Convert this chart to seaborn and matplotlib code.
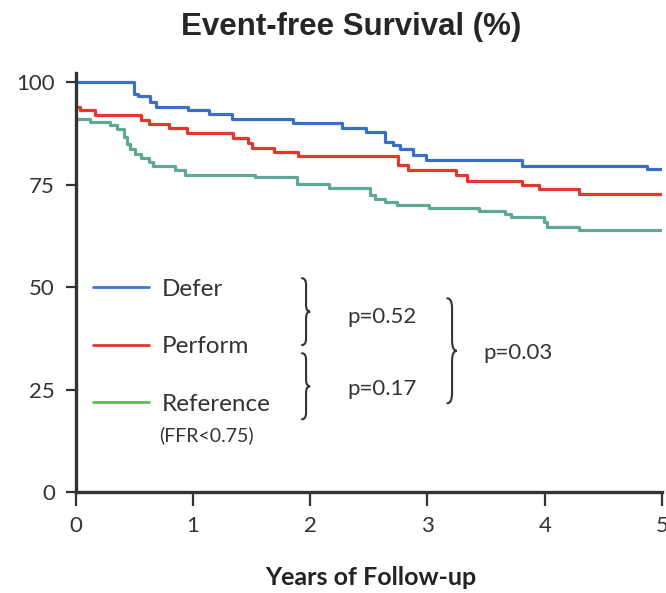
import matplotlib
matplotlib.use("Agg")
import matplotlib.pyplot as plt
from matplotlib.lines import Line2D
from matplotlib.path import Path
from matplotlib.patches import PathPatch
import pandas as pd
import seaborn as sns

# Kaplan-Meier style step curves (years, event-free survival %)
defer_t = [0, 0.50, 0.535, 0.635, 0.686, 0.96, 1.14, 1.33, 1.85, 2.27, 2.48,
           2.64, 2.71, 2.77, 2.88, 2.99, 3.81, 4.87, 5.0]
defer_s = [100, 97.1, 96.6, 95.2, 94.1, 93.2, 92.2, 91.1, 90.1, 88.9, 87.8,
           85.4, 84.6, 83.7, 82.2, 81.0, 79.6, 78.8, 78.8]

perform_t = [0, 0.04, 0.165, 0.56, 0.63, 0.80, 0.95, 1.34, 1.47, 1.50, 1.69,
             1.895, 2.75, 2.83, 3.24, 3.34, 3.81, 3.95, 4.29, 5.0]
perform_s = [94.1, 93.2, 92.0, 90.9, 89.9, 88.9, 87.7, 86.4, 85.2, 84.0, 83.0,
             82.0, 79.8, 78.5, 77.4, 75.9, 75.0, 73.9, 72.8, 72.8]

reference_t = [0, 0.12, 0.29, 0.35, 0.41, 0.44, 0.46, 0.51, 0.56, 0.63, 0.66,
               0.85, 0.93, 1.53, 1.89, 2.16, 2.51, 2.55, 2.64, 2.74, 3.01,
               3.44, 3.66, 3.71, 3.99, 4.02, 4.29, 5.0]
reference_s = [91.1, 90.3, 89.5, 88.5, 86.7, 85.0, 83.8, 82.6, 81.6, 80.6, 79.5,
               78.5, 77.3, 76.8, 75.3, 74.3, 72.4, 71.6, 70.8, 70.0, 69.3,
               68.5, 67.8, 67.1, 65.9, 64.7, 64.0, 64.0]

groups = ["Defer", "Perform", "Reference"]
curve_colors = {"Defer": "#3b6fc6", "Perform": "#e2382d", "Reference": "#5ea996"}
legend_colors = ["#3b78d0", "#e03a30", "#5cbf4e"]
x_ticks = [0, 1, 2, 3, 4, 5]
y_ticks = [0, 25, 50, 75, 100]

df = pd.concat([
    pd.DataFrame({"years": defer_t, "survival": defer_s, "group": "Defer"}),
    pd.DataFrame({"years": perform_t, "survival": perform_s, "group": "Perform"}),
    pd.DataFrame({"years": reference_t, "survival": reference_s, "group": "Reference"}),
])

sns.set_style("ticks")
plt.rcParams["font.family"] = ["Lato", "DejaVu Sans"]

fig = plt.figure(figsize=(6.66, 5.93), dpi=100)
ax = fig.add_axes([0.1135, 0.170, 0.8805, 0.707])

sns.lineplot(data=df, x="years", y="survival", hue="group", palette=curve_colors,
             drawstyle="steps-post", estimator=None, legend=False, linewidth=2.3,
             ax=ax)

ax.set_xlim(0, 5)
ax.set_ylim(0, 102.3)
ax.set_xticks(x_ticks)
ax.set_yticks(y_ticks)
ax.tick_params(axis="both", labelsize=16, colors="#333333", width=1.6)
ax.tick_params(axis="x", length=10, pad=7)
ax.tick_params(axis="y", length=7, pad=8)
for side in ["top", "right"]:
    ax.spines[side].set_visible(False)
for side in ["left", "bottom"]:
    ax.spines[side].set_linewidth(2.4)
    ax.spines[side].set_color("#333333")
ax.set_xlabel("")
ax.set_ylabel("")

handles = [Line2D([], [], color=c, linewidth=2.0) for c in legend_colors]
leg = ax.legend(handles, groups, loc="upper left", bbox_to_anchor=(0.0, 0.55),
                frameon=False, fontsize=17.5, handlelength=2.3, handletextpad=0.55,
                labelspacing=1.5, borderaxespad=0.3)
for t in leg.get_texts():
    t.set_color("#333333")
ax.text(0.715, 13.9, "(FFR<0.75)", fontsize=14, color="#333333", va="center")


def brace(x, y0, y1, w):
    ym = (y0 + y1) / 2
    q = (y1 - y0) * 0.1
    xm = x + w * 0.5
    verts = [(x, y1), (xm, y1), (xm, y1 - q), (xm, ym + q), (xm, ym), (x + w, ym),
             (xm, ym), (xm, ym - q), (xm, y0 + q), (xm, y0), (x, y0)]
    codes = [Path.MOVETO, Path.CURVE3, Path.CURVE3, Path.LINETO, Path.CURVE3,
             Path.CURVE3, Path.CURVE3, Path.CURVE3, Path.LINETO, Path.CURVE3,
             Path.CURVE3]
    ax.add_patch(PathPatch(Path(verts, codes), fill=False, lw=1.5,
                           edgecolor="#333333", capstyle="round"))


brace(1.93, 35.9, 52.2, 0.07)
brace(1.93, 17.8, 33.9, 0.07)
brace(3.17, 21.7, 47.3, 0.08)
ax.text(2.32, 42.7, "p=0.52", fontsize=16, color="#333333", va="center")
ax.text(2.32, 25.1, "p=0.17", fontsize=16, color="#333333", va="center")
ax.text(3.48, 33.9, "p=0.03", fontsize=16, color="#333333", va="center")

fig.text(0.527, 0.955, "Event-free Survival (%)", ha="center", va="center",
         fontsize=22.5, fontweight="bold", family=["Liberation Sans", "DejaVu Sans"])
fig.text(0.556, 0.026, "Years of Follow-up", ha="center", va="center",
         fontsize=18, fontweight="bold", color="#222222",
         family=["Liberation Sans Narrow", "Lato", "DejaVu Sans"])

fig.savefig("out.png", dpi=100)
